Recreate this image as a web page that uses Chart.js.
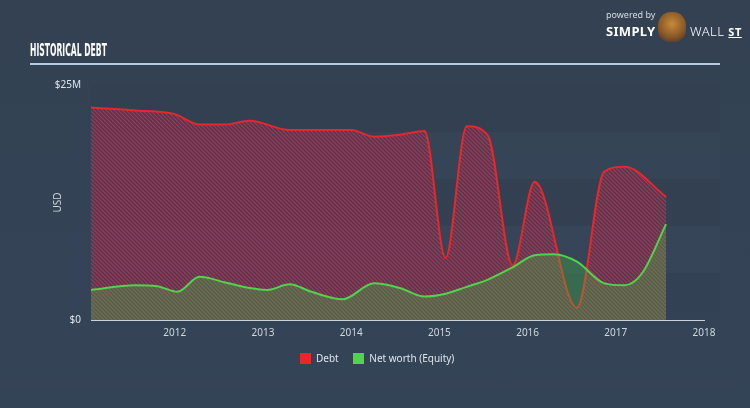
<!DOCTYPE html>
<html>
<head>
<meta charset="utf-8">
<script src="https://cdn.jsdelivr.net/npm/chart.js@4.4.0/dist/chart.umd.min.js"></script>
<style>
  html, body { margin: 0; padding: 0; }
  body {
    width: 750px; height: 408px; overflow: hidden; position: relative;
    background: linear-gradient(180deg, #334152 0%, #344457 100%);
    font-family: "Noto Sans", "DejaVu Sans", sans-serif;
  }
  #chart { position: absolute; left: 0; top: 0; }
  .title {
    position: absolute; left: 30px; top: 40px; color: #fff;
    font-family: "Liberation Sans Narrow", "DejaVu Sans Condensed", sans-serif;
    font-weight: bold; font-size: 18px; line-height: 20px; white-space: nowrap;
    transform-origin: left top;
  }
  .rule { position: absolute; left: 30px; top: 63px; width: 690px; height: 2px; background: #b4cbe2; }
  .logo { position: absolute; left: 606px; top: 8px; color: #fff; }
  .logo .pw { font-size: 9px; color: #d5dbe2; position: absolute; left: 0; top: 0; white-space: nowrap; }
  .logo .simply { position: absolute; left: 0; top: 14px; font-weight: bold; font-size: 13px; letter-spacing: 0.3px; }
  .logo .wall { position: absolute; left: 84px; top: 14px; font-size: 13px; letter-spacing: 0.5px; white-space: nowrap; font-weight: 300; }
  .logo .wall u { font-weight: bold; font-size: 11px; }
  .logo .badge { position: absolute; left: 52px; top: 4px; width: 28px; height: 30px; border-radius: 45% 45% 40% 40%;
    background: radial-gradient(circle at 50% 40%, #c98a3a 0%, #8a5a28 55%, #3a3030 100%); }
  .legend { position: absolute; top: 351px; left: 300px; font-size: 10px; color: #dfe4ea; white-space: nowrap; }
  .legend span.box { display: inline-block; width: 11px; height: 11px; vertical-align: -2px; margin-right: 5px; }
  .legend span.item { margin-right: 12px; }
</style>
</head>
<body>
<canvas id="chart" width="750" height="408"></canvas>
<div class="title" id="title">HISTORICAL DEBT</div>
<div class="rule"></div>
<div class="logo">
  <div class="pw">powered by</div>
  <div class="simply">SIMPLY</div>
  <div class="badge"></div>
  <div class="wall">WALL <u>ST</u></div>
</div>
<div class="legend">
  <span class="item"><span class="box" style="background:#e8262c"></span>Debt</span>
  <span class="item"><span class="box" style="background:#4fd44a"></span>Net worth (Equity)</span>
</div>
<script>
  // dates as fractional years, values in $M
  const debtDates = [2011.05, 2011.55, 2012.0, 2012.28, 2012.57, 2012.85, 2013.3, 2013.64, 2014.0, 2014.26, 2014.55, 2014.83, 2015.07, 2015.31, 2015.55, 2015.83, 2016.08, 2016.56, 2016.87, 2017.1, 2017.57];
  const debtValues = [22.6, 22.3, 21.9, 20.8, 20.8, 21.2, 20.2, 20.2, 20.2, 19.5, 19.7, 20.1, 6.6, 20.6, 19.6, 5.8, 14.7, 1.3, 15.8, 16.3, 13.1];

  const equityDates = [2011.05, 2011.55, 2011.8, 2012.03, 2012.28, 2012.57, 2012.85, 2013.05, 2013.3, 2013.55, 2013.9, 2014.26, 2014.55, 2014.83, 2015.07, 2015.3, 2015.55, 2015.83, 2016.08, 2016.3, 2016.56, 2016.87, 2017.1, 2017.3, 2017.57];
  const equityValues = [3.2, 3.7, 3.6, 3.0, 4.6, 4.0, 3.4, 3.2, 3.8, 3.0, 2.2, 3.9, 3.4, 2.5, 2.8, 3.5, 4.3, 5.6, 6.9, 7.0, 6.2, 3.9, 3.7, 5.0, 10.2];

  const yearTicks = [2012, 2013, 2014, 2015, 2016, 2017, 2018];
  const valueTicks = [0, 25];
  const bandEdges = [0, 5, 10, 15, 20, 25];

  const titleEl = document.getElementById("title");
  titleEl.style.transform = "scale(" + (77 / titleEl.offsetWidth).toFixed(3) + ", 1)";

  function toPoints(xs, ys) {
    return xs.map((x, i) => ({ x: x, y: ys[i] }));
  }

  function hatch(base, line) {
    const c = document.createElement("canvas");
    c.width = 4; c.height = 4;
    const g = c.getContext("2d");
    g.fillStyle = base;
    g.fillRect(0, 0, 4, 4);
    g.strokeStyle = line;
    g.lineWidth = 1.2;
    g.beginPath();
    g.moveTo(0, 0); g.lineTo(4, 4);
    g.moveTo(-1, 3); g.lineTo(1, 5);
    g.moveTo(3, -1); g.lineTo(5, 1);
    g.stroke();
    return g.createPattern(c, "repeat");
  }

  // faint alternating horizontal bands behind the plot
  const bandsPlugin = {
    id: "bands",
    beforeDatasetsDraw(chart) {
      const { ctx, chartArea, scales } = chart;
      ctx.save();
      for (let i = 0; i < bandEdges.length - 1; i++) {
        const y1 = scales.y.getPixelForValue(bandEdges[i + 1]);
        const y0 = scales.y.getPixelForValue(bandEdges[i]);
        ctx.fillStyle = i % 2 ? "rgba(255,255,255,0.012)" : "rgba(0,0,0,0.015)";
        ctx.fillRect(chartArea.left, y1, 720 - chartArea.left, y0 - y1);
      }
      ctx.restore();
    },
  };

  new Chart(document.getElementById("chart"), {
    type: "line",
    data: {
      datasets: [
        {
          label: "Net worth (Equity)",
          data: toPoints(equityDates, equityValues),
          borderColor: "#4fd44a",
          backgroundColor: "rgba(70,200,70,0.3)",
          fill: "origin",
          borderWidth: 2,
          pointRadius: 0,
          cubicInterpolationMode: "monotone",
          order: 1,
        },
        {
          label: "Debt",
          data: toPoints(debtDates, debtValues),
          borderColor: "#e8262c",
          backgroundColor: hatch("rgba(140,40,65,0.35)", "rgba(200,65,95,0.62)"),
          fill: "origin",
          borderWidth: 2,
          pointRadius: 0,
          cubicInterpolationMode: "monotone",
          order: 2,
        },
      ],
    },
    options: {
      responsive: false,
      animation: false,
      layout: { padding: { left: 41, right: 46, top: 85, bottom: 58 } },
      plugins: { legend: { display: false }, tooltip: { enabled: false } },
      scales: {
        x: {
          type: "linear",
          min: 2011.05,
          max: 2018,
          afterBuildTicks(scale) { scale.ticks = yearTicks.map((v) => ({ value: v })); },
          afterFit(scale) { scale.height = 30; },
          ticks: {
            color: "#cfd6df",
            font: { size: 10, family: "'Noto Sans', sans-serif" },
            padding: 2,
            maxRotation: 0,
            callback: (v) => String(v),
          },
          grid: { display: false, drawOnChartArea: false, drawTicks: true, tickLength: 5, color: "#c8d0da" },
          border: { display: true, color: "#c8d0da", width: 1 },
        },
        y: {
          min: 0,
          max: 25,
          afterBuildTicks(scale) { scale.ticks = valueTicks.map((v) => ({ value: v })); },
          afterFit(scale) { scale.width = 50; },
          ticks: {
            color: "#dfe4ea",
            font: { size: 10, family: "'Noto Sans', sans-serif" },
            padding: 2,
            callback: (v) => (v === 0 ? "$0" : "$" + v + "M"),
          },
          title: { display: true, text: "USD", color: "#cfd6df", font: { size: 10, family: "'Noto Sans', sans-serif" }, padding: { top: 11, bottom: 0 } },
          grid: { display: false },
          border: { display: false },
        },
      },
    },
    plugins: [bandsPlugin],
  });
</script>
</body>
</html>
